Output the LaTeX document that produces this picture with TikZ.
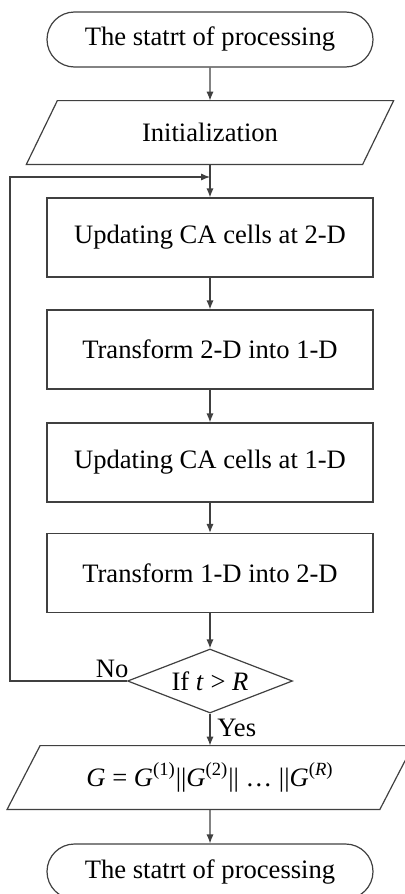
\documentclass[tikz,border=0pt]{standalone}
\usepackage{fontspec}
\setmainfont{Liberation Serif}
\usetikzlibrary{shapes.geometric,shapes.misc,arrows.meta}
\begin{document}
\begin{tikzpicture}[x=0.5pt,y=-0.5pt,
 every node/.style={font=\fontsize{13.3}{16}\selectfont},
 ln/.style={draw=black!75, line width=0.6pt},
 term/.style={rounded rectangle, ln, minimum width=163pt, minimum height=27.5pt, inner sep=0pt},
 procbox/.style={rectangle, ln, minimum width=163pt, minimum height=39.5pt, inner sep=0pt},
 iobox/.style={rectangle, minimum height=31.5pt, inner sep=0pt},
 decis/.style={diamond, ln, shape aspect=2.58, minimum width=82.5pt, minimum height=32pt, inner sep=0pt},
 arr/.style={ln, -{Latex[length=4.5pt,width=3.6pt]}},
 lbl/.style={inner sep=0pt}
]
\path[use as bounding box] (0,0) rectangle (405,894);
\clip (0,0) rectangle (405,894);

\node[term] (start) at (210,39.5) {The statrt of processing};

\node[iobox, minimum width=167.75pt] (init) at (210,132.5) {Initialization};
\draw[ln] ([xshift=7.75pt]init.north west) -- ([xshift=7.75pt]init.north east)
  -- ([xshift=-7.75pt]init.south east) -- ([xshift=-7.75pt]init.south west) -- cycle;

\node[procbox] (b1) at (210,237.5) {Updating CA cells at 2-D};
\node[procbox] (b2) at (210,349.5) {Transform 2-D into 1-D};
\node[procbox] (b3) at (210,462.5) {Updating CA cells at 1-D};
\node[procbox] (b4) at (210,573) {Transform 1-D into 2-D};

\node[decis] (dec) at (210,681) {If \textit{t} > \textit{R}};

\node[iobox, minimum width=186pt] (out) at (210,777.5)
  {\textit{G} = \textit{G}\textsuperscript{(1)}||\textit{G}\textsuperscript{(2)}||~…~||\textit{G}\textsuperscript{(\textit{R})}};
\draw[ln] ([xshift=8.25pt]out.north west) -- ([xshift=8.25pt]out.north east)
  -- ([xshift=-8.25pt]out.south east) -- ([xshift=-8.25pt]out.south west) -- cycle;

\node[term] (end) at (210,871.5) {The statrt of processing};

\coordinate (join) at (210,177);
\coordinate (lc) at (10,681);

\draw[arr] (start) -- (init);
\draw[arr] (init) -- (b1);
\draw[arr] (b1) -- (b2);
\draw[arr] (b2) -- (b3);
\draw[arr] (b3) -- (b4);
\draw[arr] (b4) -- (dec);
\draw[arr] (dec) -- (out);
\draw[arr] (out) -- (end);
\draw[arr] (dec.west) -- (lc) |- (join);

\node[lbl, anchor=south east] (no) at ([xshift=1pt,yshift=1.5pt]dec.west) {No};
\node[lbl, anchor=north west] (yes) at ([xshift=3.5pt,yshift=-2.5pt]dec.south) {Yes};
\end{tikzpicture}
\end{document}
